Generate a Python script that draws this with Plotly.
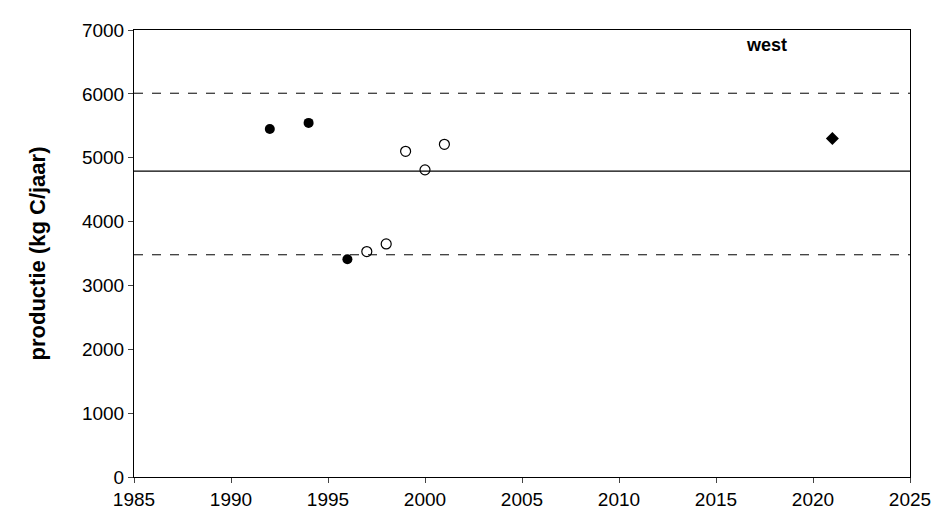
import plotly.graph_objects as go

filled_x = [1992, 1994, 1996]
filled_y = [5450, 5545, 3410]
open_x = [1997, 1998, 1999, 2000, 2001]
open_y = [3530, 3650, 5100, 4810, 5210]
diamond_x = [2021]
diamond_y = [5300]
mean_val = 4790
upper_val = 6010
lower_val = 3480

fig = go.Figure()
fig.add_trace(go.Scatter(x=filled_x, y=filled_y, mode="markers",
                         marker=dict(symbol="circle", size=10, color="black")))
fig.add_trace(go.Scatter(x=open_x, y=open_y, mode="markers",
                         marker=dict(symbol="circle-open", size=10, color="black", line=dict(width=1.2))))
fig.add_trace(go.Scatter(x=diamond_x, y=diamond_y, mode="markers",
                         marker=dict(symbol="diamond", size=10, color="black")))
fig.add_hline(y=mean_val, line=dict(color="black", width=1.3))
fig.add_hline(y=upper_val, line=dict(color="black", width=1, dash="dash"))
fig.add_hline(y=lower_val, line=dict(color="black", width=1, dash="dash"))
fig.add_annotation(x=2017.6, y=6770, text="<b>west</b>", showarrow=False,
                   font=dict(size=18, color="black", family="Arial, Liberation Sans"))

fig.update_layout(
    width=950, height=526, showlegend=False,
    plot_bgcolor="white", paper_bgcolor="white",
    margin=dict(l=126, r=48, t=13, b=57),
    font=dict(family="Arial, Liberation Sans", size=19, color="black"),
    xaxis=dict(range=[1985, 2025], dtick=5, showgrid=False, zeroline=False,
               showline=True, linecolor="black", mirror=True, ticks="outside", ticklen=5),
    yaxis=dict(range=[0, 7000], dtick=1000, showgrid=False, zeroline=False,
               showline=True, linecolor="black", mirror=True, ticks="outside", ticklen=5,
               title=dict(text="<b>productie (kg C/jaar)</b>", font=dict(size=22), standoff=30)),
)
fig.write_html("out.html")
